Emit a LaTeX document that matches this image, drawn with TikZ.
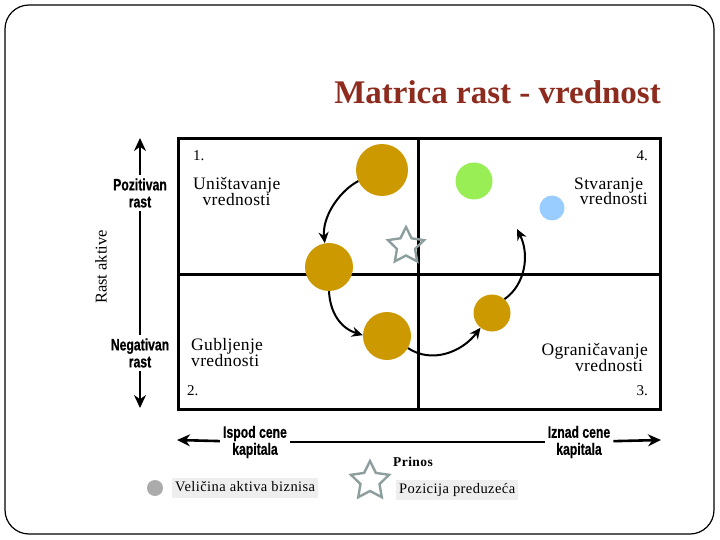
\documentclass[tikz,border=0pt]{standalone}
\usepackage{fontspec}
\setmainfont{Liberation Serif}
\newfontfamily\narrowsans[FakeStretch=0.74,FakeBold=0.6]{Liberation Sans}
\newfontfamily\titlefont{Liberation Serif}
\newfontfamily\legfont[LetterSpace=3]{Liberation Serif}
\newfontfamily\quadfont[LetterSpace=2]{Liberation Serif}
\usetikzlibrary{shapes.geometric,arrows.meta}
\definecolor{gold}{HTML}{CC9900}
\definecolor{titlered}{HTML}{8E2B1F}
\definecolor{startgray}{HTML}{8E9E9E}
\definecolor{lightgreen}{HTML}{99EE55}
\definecolor{lightblue}{HTML}{99CCFF}
\definecolor{legendbg}{HTML}{EEEEEE}
\tikzset{
  frame/.style={line width=3pt, line cap=rect},
  axis/.style={line width=2.6pt},
  axarrow/.style={line width=2.6pt, -{Stealth[length=13pt,width=12pt]}},
  flow/.style={line width=2pt, -{Stealth[length=11pt,width=10pt]}},
  axlab/.style={font=\narrowsans\bfseries\fontsize{16.5}{17}\selectfont, align=center, inner sep=3pt},
  quadtxt/.style={font=\quadfont\fontsize{17.5}{16}\selectfont, inner sep=0pt},
  numtxt/.style={font=\fontsize{15}{15}\selectfont, inner sep=0pt},
  bubble/.style={circle, inner sep=0pt},
  starmark/.style={star, star points=5, star point ratio=2.0, draw=startgray, line width=2.4pt, inner sep=0pt},
  legtxt/.style={fill=legendbg, font=\legfont\fontsize{14.5}{14.5}\selectfont, inner sep=3pt, text height=10.5pt, text depth=3.5pt}
}
\begin{document}
\begin{tikzpicture}[x=1pt,y=-1pt]
\useasboundingbox (0,0) rectangle (720,540);
\draw[rounded corners=24pt, line width=1.2pt] (5,5) rectangle (714,534);

% title
\node[font=\titlefont\bfseries\fontsize{33}{33}\selectfont, text=titlered, anchor=base east, inner sep=0pt] (title) at (661,104) {Matrica rast - vrednost};

% matrix
\draw[frame] (178,139) rectangle (660,409);
\draw[frame] (418,139) -- (418,409);
\draw[frame] (178,274) -- (660,274);

% quadrant texts (base = last line)
\node[numtxt, anchor=base west] (n1) at (193,161) {1.};
\node[numtxt, anchor=base east] (n4) at (648,161) {4.};
\node[numtxt, anchor=base west] (n2) at (187,395) {2.};
\node[numtxt, anchor=base east] (n3) at (648,395) {3.};
\node[quadtxt, anchor=base west, align=left] (q1) at (193,206) {Uništavanje\\\ \ vrednosti};
\node[quadtxt, anchor=base east, align=right] (q4) at (648,205) {Stvaranje\ \ \\vrednosti};
\node[quadtxt, anchor=base west, align=left] (q2) at (191,366) {Gubljenje\\vrednosti};
\node[quadtxt, anchor=base east, align=right] (q3) at (648,371) {Ograničavanje\\vrednosti\ \ };

% bubbles
\node[bubble, fill=gold, minimum size=52pt] (c1) at (382,170) {};
\node[bubble, fill=gold, minimum size=48pt] (c2) at (329,267) {};
\node[bubble, fill=gold, minimum size=48pt] (c3) at (387,336) {};
\node[bubble, fill=gold, minimum size=37pt] (c4) at (492,313) {};
\node[bubble, fill=lightgreen, minimum size=37pt] (g1) at (474,181) {};
\node[bubble, fill=lightblue, minimum size=25pt] (b1) at (552,208) {};
\node[starmark, minimum size=38pt] (s1) at (406,246) {};

% flow arrows
\coordinate (end4) at (517,229);
\draw[flow] (c1.205) .. controls (338,192) and (322,218) .. (c2.100);
\draw[flow] (c2.270) .. controls (330,312) and (340,328) .. (c3.178);
\draw[flow] (c3.330) .. controls (432,364) and (462,352) .. (c4.232);
\draw[flow] (c4.48) .. controls (525,285) and (530,255) .. (end4);

% vertical axis
\node[axlab] (pl) at (140,193) {Pozitivan\\rast};
\node[axlab] (nl) at (140,353) {Negativan\\rast};
\coordinate (ytop) at (140,138);
\coordinate (ybot) at (140,408);
\draw[axarrow] (pl) -- (ytop);
\draw[axis] (pl) -- (nl);
\draw[axarrow] (nl) -- (ybot);
\node[font=\fontsize{16.5}{16.5}\selectfont, rotate=90] (ra) at (101,267) {Rast aktive};

% horizontal axis
\node[axlab] (il) at (255,442) {Ispod cene\\kapitala};
\node[axlab] (ir) at (579,442) {Iznad cene\\kapitala};
\coordinate (xleft) at (177,440);
\coordinate (xright) at (661,440);
\draw[axarrow] (il) -- (xleft);
\draw[axis] (il) -- (ir);
\draw[axarrow] (ir) -- (xright);
\node[font=\legfont\bfseries\fontsize{13.5}{13.5}\selectfont] (prinos) at (413,462) {Prinos};

% legend
\node[bubble, fill=black!33, minimum size=16pt] (lc) at (155,488) {};
\node[legtxt, anchor=west] (lt1) at (172,488) {Veličina aktiva biznisa};
\node[starmark, minimum size=40pt] (ls) at (370,481) {};
\node[legtxt, anchor=west] (lt2) at (396,490) {Pozicija preduzeća};
\end{tikzpicture}
\end{document}
